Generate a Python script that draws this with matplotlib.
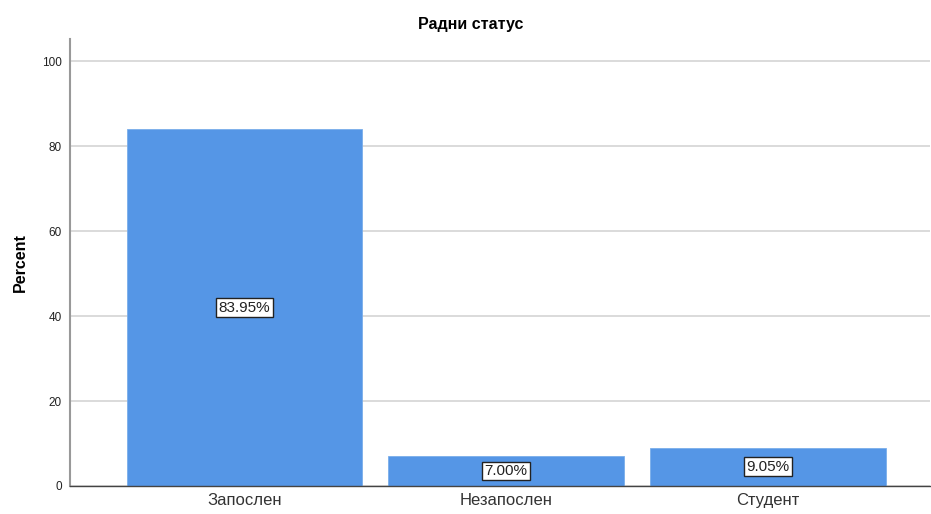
import matplotlib.pyplot as plt

plt.rcParams["font.family"] = ["Liberation Sans", "DejaVu Sans"]

categories = ["Запослен", "Незапослен", "Студент"]
percents = [83.95, 7.00, 9.05]
value_labels = ["83.95%", "7.00%", "9.05%"]
yticks = [0, 20, 40, 60, 80, 100]

fig = plt.figure(figsize=(9.31, 5.14), dpi=100)
ax = fig.add_axes([70 / 931, 28 / 514, 860 / 931, 447 / 514])

x = range(len(categories))
ax.bar(x, percents, width=0.9, color="#5596e6", edgecolor="#7aaeea", linewidth=0.6, zorder=2)

for i, (v, lab) in enumerate(zip(percents, value_labels)):
    ax.text(i, v / 2, lab, ha="center", va="center", fontsize=11, color="#222222",
            bbox=dict(boxstyle="square,pad=0.15", fc="white", ec="#222222", lw=1.0), zorder=3)

ax.set_xlim(-0.667, 2.62)
ax.set_ylim(0, 105.2)
ax.set_yticks(yticks)
ax.set_xticks(list(x))
ax.set_xticklabels(categories, fontsize=12, color="#333333")
ax.tick_params(axis="y", labelsize=8.5, length=0, pad=6, colors="#222222")
ax.tick_params(axis="x", length=0, pad=5)
ax.yaxis.grid(True, color="#d4d4d4", lw=1.2, zorder=0)
ax.set_axisbelow(True)

for s in ["top", "right"]:
    ax.spines[s].set_visible(False)
ax.spines["left"].set_color("#999999")
ax.spines["left"].set_linewidth(1.5)
ax.spines["bottom"].set_color("#444444")
ax.spines["bottom"].set_linewidth(1.0)

ax.set_ylabel("Percent", fontsize=11.5, fontweight="bold", labelpad=10)
fig.text(471 / 931, 1 - 24 / 514, "Радни статус", ha="center", va="center",
         fontsize=11.5, fontweight="bold")

fig.savefig("out.png", dpi=100)
